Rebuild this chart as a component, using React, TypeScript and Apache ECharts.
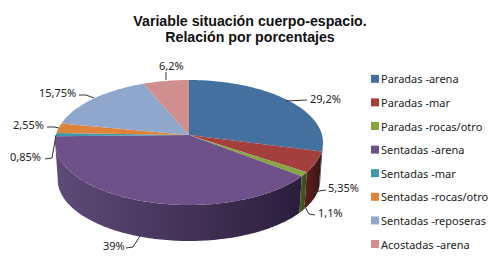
import React, { useEffect, useRef } from "react";
import * as echarts from "echarts";

const titleLines = ["Variable situación cuerpo-espacio.", "Relación por porcentajes"];
const names = ["Paradas -arena", "Paradas -mar", "Paradas -rocas/otro", "Sentadas -arena", "Sentadas -mar", "Sentadas -rocas/otro", "Sentadas -reposeras", "Acostadas -arena"];
const values = [29.2, 5.35, 1.1, 39, 0.85, 2.55, 15.75, 6.2];
const labels = ["29,2%", "5,35%", "1,1%", "39%", "0,85%", "2,55%", "15,75%", "6,2%"];
const colors = ["#44709f", "#a3403d", "#86a644", "#6f5189", "#3d97ad", "#dd8438", "#8fa6cd", "#cf8f8e"];
const wallLeft = ["#2f4e70", "#5c1f1d", "#4a6222", "#5f4a78", "#2a6878", "#8c5220", "#5a6e8c", "#8c5a5a"];
const wallRight = ["#2f4e70", "#3c1512", "#33481a", "#2a1e3c", "#2a6878", "#8c5220", "#5a6e8c", "#8c5a5a"];

// label text anchor and leader-line geometry
const labelLayout: { x: number; y: number; align: string; line: number[][] }[] = [
  { x: 310, y: 98, align: "left", line: [[286, 101], [307, 100]] },
  { x: 328, y: 187, align: "left", line: [[313, 193], [319, 191], [326, 190]] },
  { x: 318, y: 212, align: "left", line: [[304, 205], [309, 214], [315, 215]] },
  { x: 103, y: 245, align: "left", line: [[140, 236], [133, 247], [126, 248]] },
  { x: 10, y: 156, align: "left", line: [[56, 135], [52, 158], [45, 159]] },
  { x: 13, y: 124, align: "left", line: [[59, 128], [54, 127], [47, 127]] },
  { x: 39, y: 92, align: "left", line: [[94, 98], [86, 95], [79, 95]] },
  { x: 159, y: 65, align: "left", line: [[166, 80], [166, 72]] },
];

const CX = 189, CY = 135, RX = 133, RY = 61.6, K = 0.12, DEPTH = 37.4, BOTTOM_SCALE = 0.98;
const TOTAL = values.reduce((a, b) => a + b, 0);
const starts = values.map((_, i) => values.slice(0, i).reduce((a, b) => a + b, 0));

function project(t: number, r = 1, bottom = false): number[] {
  const x = Math.sin(t) * r, y = -Math.cos(t) * r;
  const d = 1 - K * y;
  const s = bottom ? BOTTOM_SCALE : 1;
  return [CX + (RX * s * x) / d, CY + (bottom ? DEPTH : 0) + (RY * s * y) / d];
}

function arcPts(a: number, b: number, bottom = false): number[][] {
  const n = Math.max(2, Math.ceil(Math.abs(b - a) / 0.02));
  const out: number[][] = [];
  for (let i = 0; i <= n; i++) out.push(project(a + ((b - a) * i) / n, 1, bottom));
  return out;
}

const WALL_MIN = (97 * Math.PI) / 180;
const WALL_MAX = (264 * Math.PI) / 180;

export default function App() {
  const ref = useRef<HTMLDivElement>(null);
  useEffect(() => {
    const chart = echarts.init(ref.current!, undefined, { renderer: "svg" });
    const series = names.map((name, i) => ({
      type: "custom",
      name,
      coordinateSystem: "none",
      itemStyle: { color: colors[i] },
      data: [[starts[i], values[i]]],
      silent: true,
      renderItem: (_p: any, api: any) => {
        const a = (api.value(0) / TOTAL) * 2 * Math.PI;
        const b = ((api.value(0) + api.value(1)) / TOTAL) * 2 * Math.PI;
        const children: any[] = [];
        const w0 = Math.max(a, WALL_MIN), w1 = Math.min(b, WALL_MAX);
        if (w1 > w0) {
          const top = arcPts(w0, w1);
          const bot = arcPts(w1, w0, true);
          children.push({
            type: "polygon",
            shape: { points: top.concat(bot) },
            style: {
              fill: new echarts.graphic.LinearGradient(0, 0, 1, 0, [
                { offset: 0, color: wallLeft[i] },
                { offset: 1, color: wallRight[i] },
              ]),
            },
          });
        }
        children.push({
          type: "polygon",
          shape: { points: [project(0, 0), ...arcPts(a, b)] },
          style: { fill: colors[i] },
        });
        return { type: "group", children };
      },
    }));
    chart.setOption({
      animation: false,
      title: {
        text: titleLines.join("\n"),
        left: 245,
        top: 8,
        textAlign: "center",
        textStyle: { fontFamily: "Liberation Sans", fontSize: 14.2, fontWeight: "bold", color: "#111", lineHeight: 16 },
      },
      legend: {
        orient: "vertical",
        left: 366,
        top: 67,
        icon: "rect",
        itemWidth: 8,
        itemHeight: 8,
        itemGap: 10,
        data: names,
        selectedMode: false,
        textStyle: { fontFamily: "Noto Sans", fontSize: 11, color: "#222", padding: [0, 0, 0, -3], lineHeight: 13.6, height: 13.6 },
      },
      graphic: labelLayout.flatMap((l, i) => [
        { type: "polyline", silent: true, z: 10, shape: { points: l.line }, style: { stroke: "#333", lineWidth: 1, fill: "none" } },
        { type: "text", silent: true, z: 10, x: l.x, y: l.y, style: { text: labels[i], fontFamily: "Noto Sans", fontSize: 11, fill: "#222", textVerticalAlign: "middle", textAlign: l.align } },
      ]),
      series,
    });
    return () => chart.dispose();
  }, []);
  return <div ref={ref} style={{ width: 500, height: 273, position: "absolute", left: 0, top: 0, background: "#fff" }} />;
}
